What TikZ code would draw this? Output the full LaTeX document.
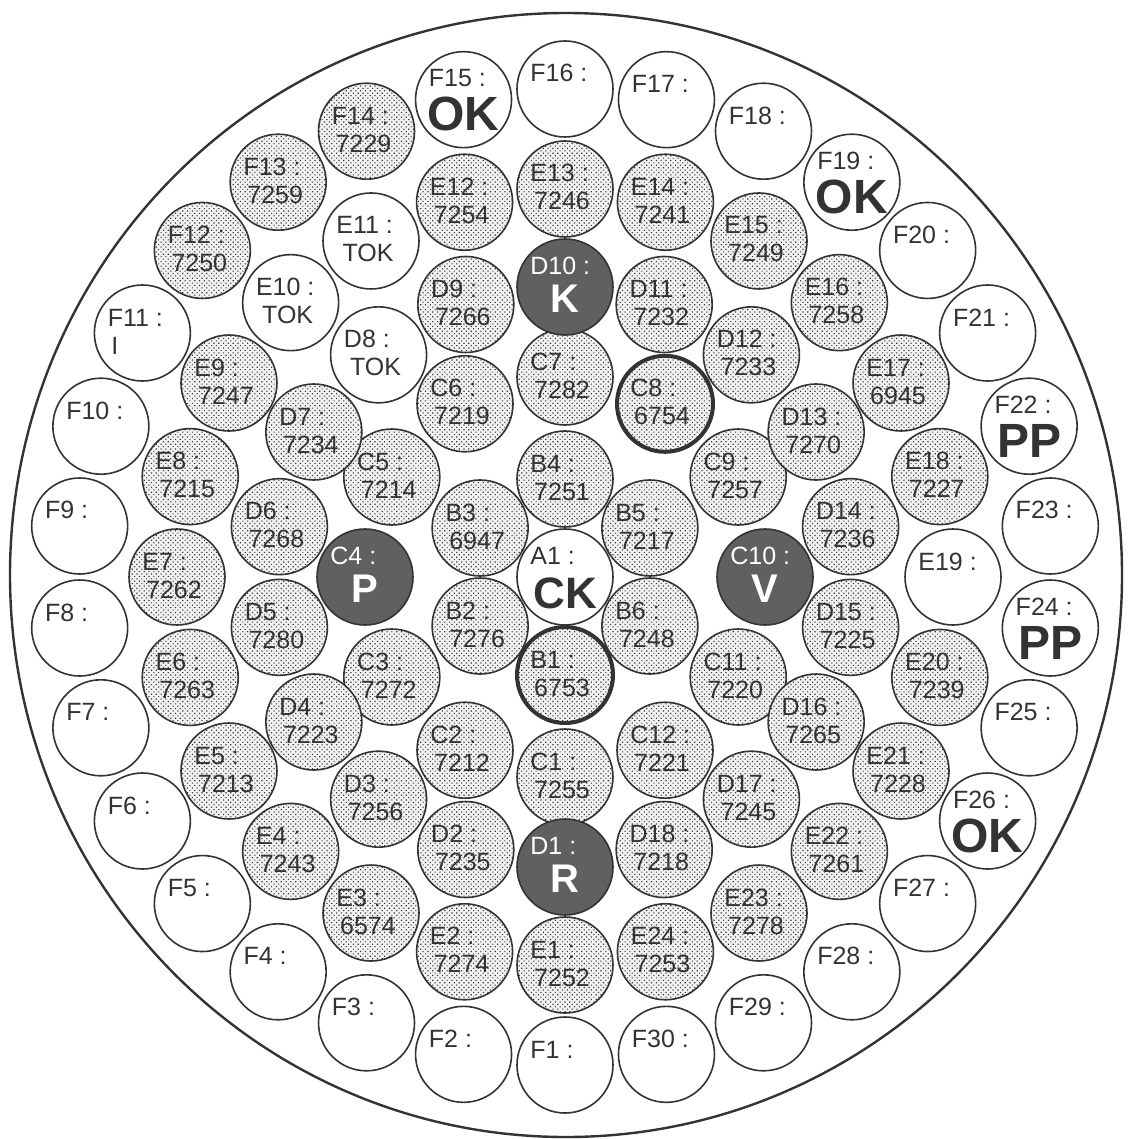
\documentclass[tikz,border=0pt]{standalone}
\usepackage{fontspec}
\setmainfont{Liberation Sans}
\usetikzlibrary{patterns.meta}
\definecolor{ink}{HTML}{333333}
\definecolor{slate}{HTML}{606060}

\begin{document}
\begin{tikzpicture}[x=0.5pt,y=-0.5pt] %% 1 unit = 1 px, y down
	\tikzstyle{cell}=[circle,draw=ink,line width=0.8pt,minimum size=48pt,inner sep=0pt]
	\tikzstyle{dot}=[fill=black!5,postaction={pattern={Dots[distance=1.7pt,radius=0.4pt,angle=45]},pattern color=ink}]
	\tikzstyle{thk}=[dot]
	\tikzstyle{nil}=[fill=white]
	\tikzstyle{ok}=[fill=white]
	\tikzstyle{dark}=[fill=slate]
	\tikzstyle{rim}=[draw=ink,line width=2pt]
	%% texts in the cells
	\tikzstyle{txt}=[inner sep=0pt,text=ink,font=\fontsize{12.5}{12.5}\selectfont]
	\tikzstyle{dot-lab}=[txt,anchor=base west,xshift=-17.5pt,yshift=3.5pt]
	\tikzstyle{dot-val}=[txt,anchor=base,xshift=-1.5pt,yshift=-10.5pt]
	\tikzstyle{thk-lab}=[dot-lab]
	\tikzstyle{thk-val}=[dot-val]
	\tikzstyle{nil-lab}=[dot-lab]
	\tikzstyle{nil-val}=[dot-val]
	\tikzstyle{ok-lab}=[dot-lab,yshift=3pt]
	\tikzstyle{ok-val}=[txt,anchor=base,yshift=-15.5pt,font=\fontsize{24}{24}\selectfont\bfseries]
	\tikzstyle{dark-lab}=[ok-lab,text=white]
	\tikzstyle{dark-val}=[ok-val,text=white,yshift=3pt,font=\fontsize{20}{20}\selectfont\bfseries]
	\useasboundingbox (0,0) rectangle (1128,1139);
	%% outer ring
	\draw[ink,line width=1.2pt] (566,575) circle [x radius=556,y radius=562];
	\begin{scope}[shift={(565,577)}]
	%% centre
	\node[cell,ok] (A1) at (0,0) {};
	\node[ok-lab] (A1-n) at (A1) {A1\ :};
	\node[ok-val,font=\fontsize{22}{22}\selectfont\bfseries] (A1-v) at (A1) {CK};
	%% ring B
	\foreach \s/\v [count=\i] in {thk/6753,dot/7276,dot/6947,dot/7251,dot/7217,dot/7248}{
		\node[cell,\s] (B\i) at ({90+60*(\i-1)}:98) {};
		\node[\s-lab] (B\i-n) at (B\i) {B\i\ :};
		\node[\s-val] (B\i-v) at (B\i) {\v};
	}
	%% ring C
	\foreach \s/\v [count=\i] in {dot/7255,dot/7212,dot/7272,dark/P,dot/7214,dot/7219,
		dot/7282,thk/6754,dot/7257,dark/V,dot/7220,dot/7221}{
		\node[cell,\s] (C\i) at ({90+30*(\i-1)}:200) {};
		\node[\s-lab] (C\i-n) at (C\i) {C\i\ :};
		\node[\s-val] (C\i-v) at (C\i) {\v};
	}
	%% ring D
	\foreach \s/\v [count=\i] in {dark/R,dot/7235,dot/7256,dot/7223,dot/7280,dot/7268,
		dot/7234,nil/TOK,dot/7266,dark/K,dot/7232,dot/7233,dot/7270,dot/7236,dot/7225,
		dot/7265,dot/7245,dot/7218}{
		\node[cell,\s] (D\i) at ({90+20*(\i-1)}:290) {};
		\node[\s-lab] (D\i-n) at (D\i) {D\i\ :};
		\node[\s-val] (D\i-v) at (D\i) {\v};
	}
	%% ring E
	\foreach \s/\v [count=\i] in {dot/7252,dot/7274,dot/6574,dot/7243,dot/7213,dot/7263,
		dot/7262,dot/7215,dot/7247,nil/TOK,nil/TOK,dot/7254,dot/7246,dot/7241,dot/7249,
		dot/7258,dot/6945,dot/7227,nil/{},dot/7239,dot/7228,dot/7261,dot/7278,dot/7253}{
		\node[cell,\s] (E\i) at ({90+15*(\i-1)}:388) {};
		\node[\s-lab] (E\i-n) at (E\i) {E\i\ :};
		\node[\s-val] (E\i-v) at (E\i) {\v};
	}
	%% ring F
	\foreach \s/\v [count=\i] in {nil/{},nil/{},nil/{},nil/{},nil/{},nil/{},nil/{},nil/{},
		nil/{},nil/{},nil/{\makebox[28pt][l]{I}},dot/7250,dot/7259,dot/7229,ok/OK,nil/{},
		nil/{},nil/{},ok/OK,nil/{},nil/{},ok/PP,nil/{},ok/PP,nil/{},ok/OK,nil/{},nil/{},
		nil/{},nil/{}}{
		\node[cell,\s] (F\i) at ({90+12*(\i-1)}:488) {};
		\node[\s-lab] (F\i-n) at (F\i) {F\i\ :};
		\node[\s-val] (F\i-v) at (F\i) {\v};
	}
	%% thick rims
	\draw[rim] (B1.center) circle [radius=24pt];
	\draw[rim] (C8.center) circle [radius=24pt];
	\end{scope}
\end{tikzpicture}
\end{document}
